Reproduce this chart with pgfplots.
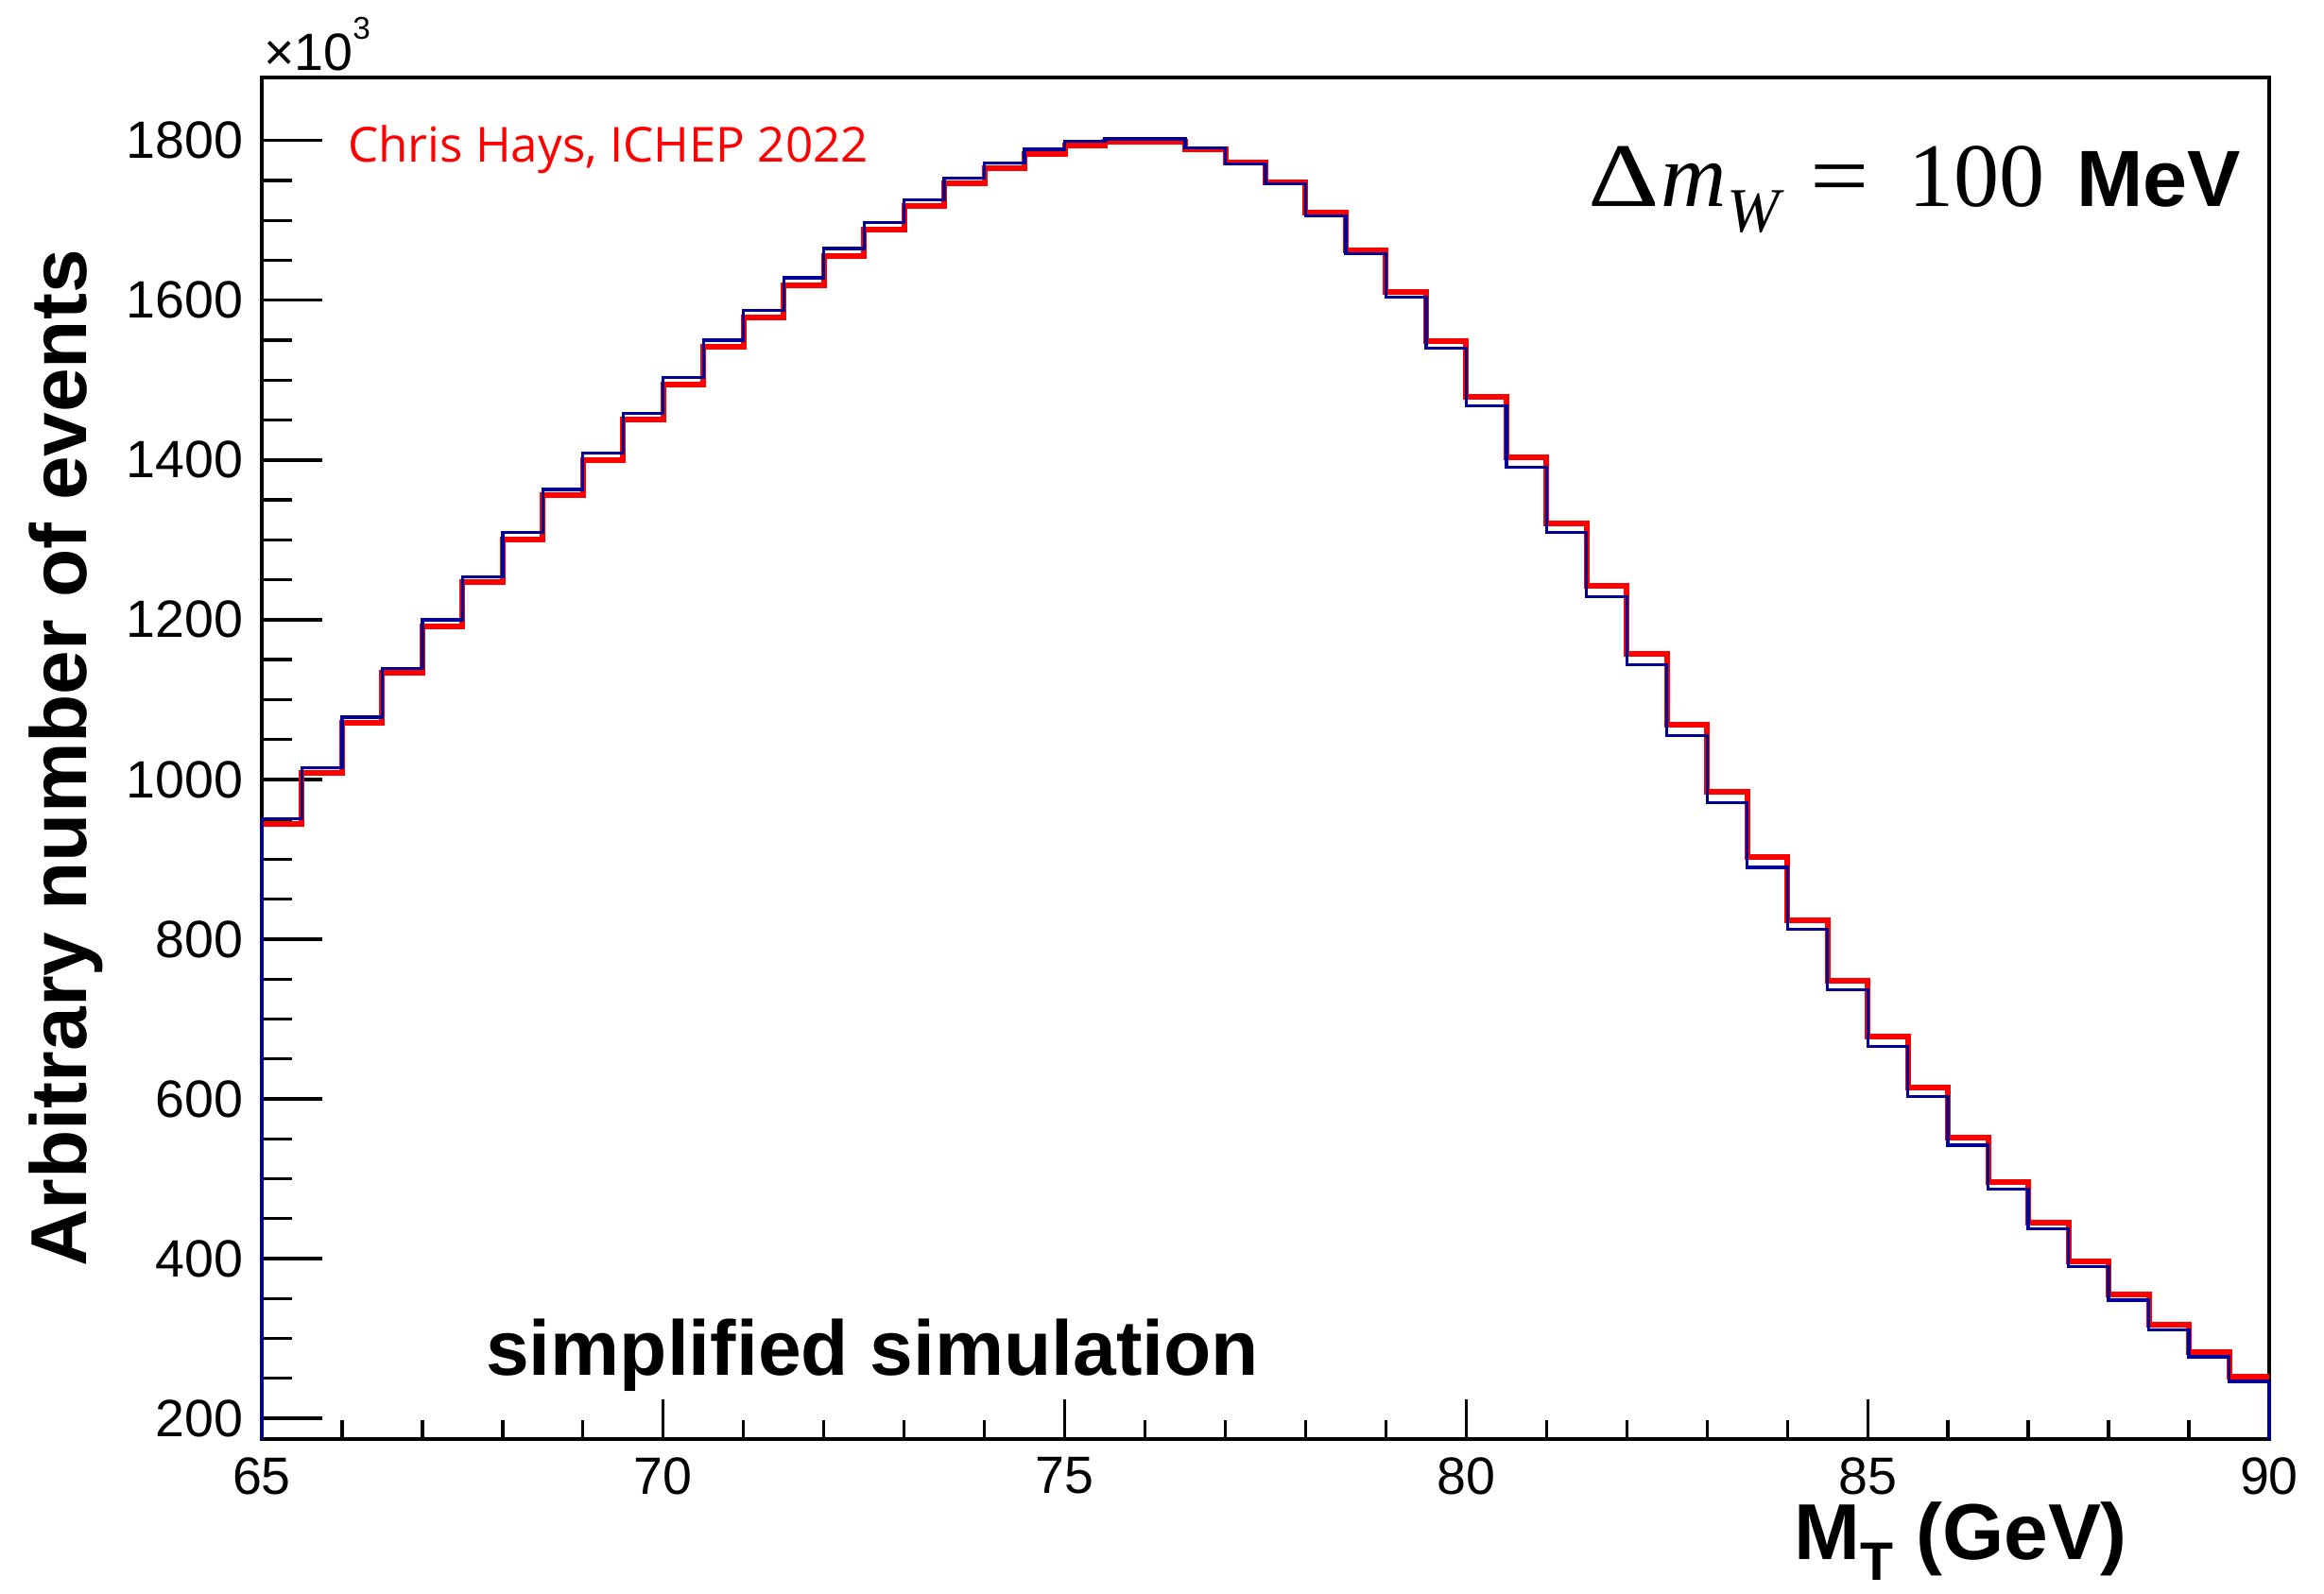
\documentclass[border=0pt]{standalone}
\usepackage{pgfplots}
\usepackage{pgfplotstable}
\pgfplotsset{compat=1.18}
\usepackage{fontspec}
\setmainfont{Liberation Sans}
\newfontfamily\osfont{Open Sans}
\newfontfamily\tmfont{Liberation Serif}
\definecolor{rootblue}{RGB}{0,0,153}
\definecolor{rootred}{RGB}{255,0,0}

\pgfplotstableread{
x    blue red
65.0 951  944
65.5 1015 1008
66.0 1078 1071
66.5 1139 1133
67.0 1200 1192
67.5 1254 1247
68.0 1309 1300
68.5 1363 1356
69.0 1409 1400
69.5 1458 1451
70.0 1503 1494
70.5 1550 1542
71.0 1587 1578
71.5 1628 1619
72.0 1665 1655
72.5 1697 1689
73.0 1726 1718
73.5 1753 1746
74.0 1772 1766
74.5 1789 1783
75.0 1799 1794
75.5 1802 1798
76.0 1802 1799
76.5 1791 1789
77.0 1771 1772
77.5 1746 1748
78.0 1706 1710
78.5 1658 1662
79.0 1604 1610
79.5 1540 1549
80.0 1468 1479
80.5 1391 1403
81.0 1309 1321
81.5 1229 1242
82.0 1144 1157
82.5 1055 1069
83.0 971  985
83.5 890  903
84.0 812  824
84.5 737  748
85.0 666  678
85.5 603  614
86.0 542  552
86.5 487  496
87.0 437  445
87.5 390  397
88.0 348  355
88.5 311  317
89.0 277  283
89.5 246  252
90.0 246  252
}\histdata

\begin{document}
\begin{tikzpicture}
\useasboundingbox (-49.86pt,-29.34pt) rectangle (392.76pt,274.14pt);
\begin{axis}[
  at={(0pt,0pt)}, anchor=south west,
  scale only axis, width=382.32pt, height=259.38pt,
  xmin=65, xmax=90, ymin=174, ymax=1879,
  clip=false,
  xtick={65,70,...,90}, ytick={200,400,...,1800},
  minor x tick num=4, minor y tick num=3,
  xtick pos=bottom, ytick pos=left, tick align=inside,
  major tick length=11.5pt, minor tick length=5.76pt,
  tick style={line width=0.6pt, black},
  xtick style={/pgfplots/major tick length=7.5pt,/pgfplots/minor tick length=3.6pt},
  axis line style={line width=0.6pt},
  scaled ticks=false,
  /pgf/number format/assume math mode=true,
  /pgf/number format/1000 sep={},
  ticklabel style={font=\fontsize{10}{12}\selectfont},
]
\addplot[const plot mark left, rootred, line width=1.08pt] table[x=x, y=red]{\histdata};
\addplot[const plot mark left, rootblue, line width=0.6pt] table[x=x, y=blue]{\histdata};
\addplot[rootblue, line width=0.6pt] coordinates {(65,174) (65,951)};
\addplot[rootblue, line width=0.6pt] coordinates {(90,246) (90,174)};
\end{axis}

% axis titles and annotations
\node[rotate=90, anchor=base, inner sep=0pt] at (-33.3pt,129.69pt)
  {\bfseries\fontsize{15.1}{18}\selectfont Arbitrary number of events};
\node[anchor=base east, inner sep=0pt] at (355.5pt,-22.86pt)
  {\bfseries\fontsize{15.1}{18}\selectfont M\raisebox{-4pt}{\fontsize{10.3}{12}\selectfont T}\hspace{0.28em}(GeV)};
\node[anchor=base west, inner sep=0pt] at (0.2pt,260.8pt)
  {\fontsize{10}{12}\selectfont ×10\raisebox{5.9pt}{\fontsize{6}{7}\selectfont 3}};
\node[anchor=base west, inner sep=0pt, text=rootred] at (16.2pt,243.2pt)
  {\osfont\fontsize{9.2}{11}\selectfont Chris Hays, ICHEP 2022};
\node[anchor=base east, inner sep=0pt] at (377.1pt,234.8pt)
  {\tmfont\fontsize{17.3}{20}\selectfont \scalebox{1.22}[1]{Δ}\hspace{0.3pt}\textit{m}\raisebox{-4.8pt}{\fontsize{12}{14}\selectfont\textit{W}}\hspace{5pt}\scalebox{1.15}[1]{=}\hspace{7.5pt}100\hspace{6pt}{\normalfont\bfseries\fontsize{15.2}{17}\selectfont MeV}};
\node[anchor=base west, inner sep=0pt] at (42.5pt,12.24pt)
  {\bfseries\fontsize{14.8}{17}\selectfont simplified simulation};
\end{tikzpicture}
\end{document}
